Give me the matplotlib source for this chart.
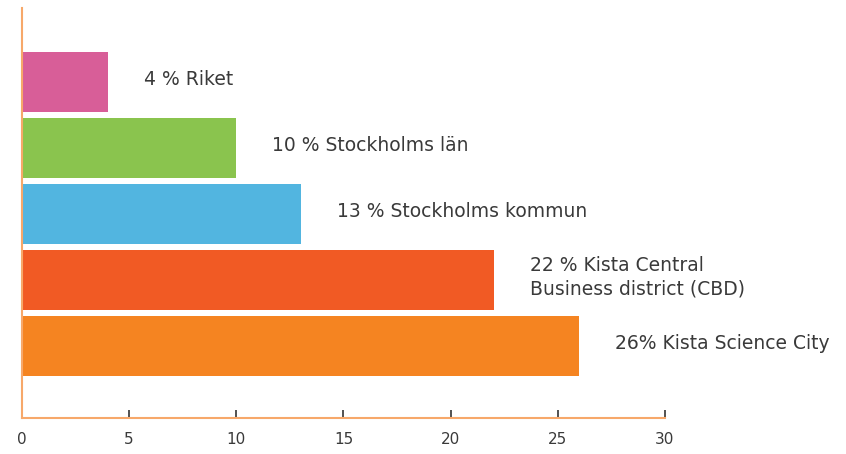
import matplotlib.pyplot as plt

# Data
labels = ["4 % Riket", "10 % Stockholms län", "13 % Stockholms kommun",
          "22 % Kista Central\nBusiness district (CBD)", "26% Kista Science City"]
values = [4, 10, 13, 22, 26]
colors = ["#D85E98", "#8AC44E", "#52B5E0", "#F15A24", "#F58421"]
xticks = [0, 5, 10, 15, 20, 25, 30]

fig = plt.figure(figsize=(8.46, 4.54), dpi=100)
ax = fig.add_axes([0.026, 0.079, 0.760, 0.903])

ypos = list(range(len(values)))
ax.barh(ypos, values, height=0.91, color=colors)

for y, v, lab in zip(ypos, values, labels):
    ax.annotate(lab, (v, y), xytext=(36, 3), textcoords="offset pixels",
                va="center", ha="left", fontsize=13.5, color="#3a3a3a",
                linespacing=1.3, annotation_clip=False)

ax.set_xlim(0, 30)
ax.set_ylim(5.09, -1.12)

spine_col = "#F7A86A"
for s in ["top", "right"]:
    ax.spines[s].set_visible(False)
for s in ["left", "bottom"]:
    ax.spines[s].set_color(spine_col)
    ax.spines[s].set_linewidth(1.5)

ax.set_yticks([])
ax.set_xticks(xticks)
ax.tick_params(axis="x", direction="in", length=6, width=1.2, color="#333333",
               labelsize=11, labelcolor="#3a3a3a", pad=10)

fig.savefig("out.png", dpi=100)
